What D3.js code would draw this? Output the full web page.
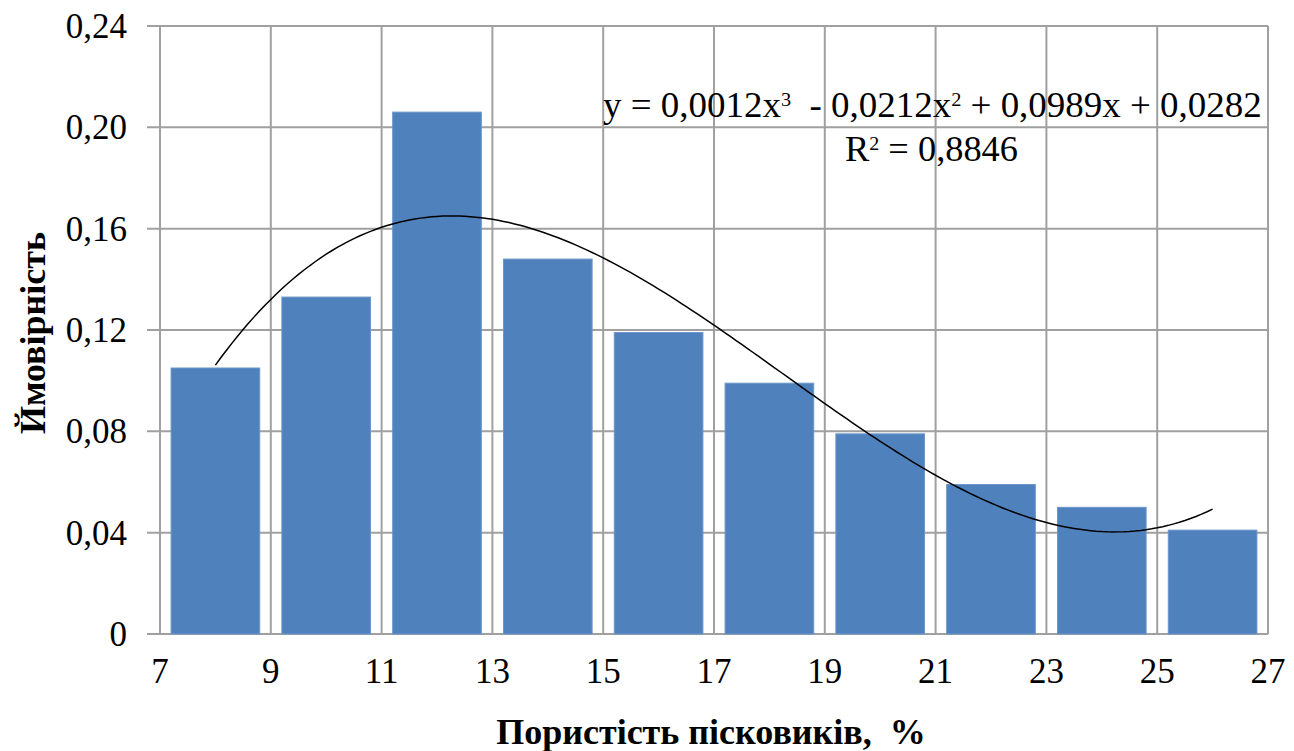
<!DOCTYPE html>
<html>
<head>
<meta charset="utf-8">
<script src="https://cdn.jsdelivr.net/npm/d3@7"></script>
<style>
  html, body { margin: 0; padding: 0; background: #fff; }
  svg { display: block; }
  text { font-family: "Liberation Serif", "Times New Roman", serif; fill: #000; white-space: pre; }
</style>
</head>
<body>
<svg id="chart" width="1294" height="751"></svg>
<script>
// Porosity bins (%), bin edges used as tick labels
const binEdges = [7, 9, 11, 13, 15, 17, 19, 21, 23, 25, 27];
const binLabels = ["7–9", "9–11", "11–13", "13–15", "15–17", "17–19", "19–21", "21–23", "23–25", "25–27"];
// Probability for each bin
const probability = [0.105, 0.133, 0.206, 0.148, 0.119, 0.099, 0.079, 0.059, 0.050, 0.041];
const yTicks = [0, 0.04, 0.08, 0.12, 0.16, 0.20, 0.24];
// Trend equation pieces: [text, isSuperscript]
const equationParts = [["y = 0,0012x", false], ["3", true], ["  - 0,0212x", false], ["2", true], [" + 0,0989x + 0,0282", false]];
const r2Parts = [["R", false], ["2", true], [" = 0,8846", false]];

const svg = d3.select("#chart");
const plot = { left: 160, right: 1268, top: 26, bottom: 634 };
const gridColor = "#a0a0a0";

const x = d3.scaleLinear().domain([7, 27]).range([plot.left, plot.right]);
const xBand = d3.scaleBand().domain(binLabels).range([plot.left, plot.right]).paddingInner(0.2).paddingOuter(0.1);
const y = d3.scaleLinear().domain([0, 0.24]).range([plot.bottom, plot.top]);

// Horizontal gridlines with left tick marks
svg.append("g").selectAll("line").data(yTicks).join("line")
  .attr("x1", plot.left - 13).attr("x2", plot.right)
  .attr("y1", d => y(d)).attr("y2", d => y(d))
  .attr("stroke", gridColor).attr("stroke-width", 2);

// Vertical gridlines at bin edges
svg.append("g").selectAll("line").data(binEdges).join("line")
  .attr("x1", d => x(d)).attr("x2", d => x(d))
  .attr("y1", plot.top).attr("y2", plot.bottom)
  .attr("stroke", gridColor).attr("stroke-width", 2);

// Y tick labels
const fmt = d => d === 0 ? "0" : d3.format(".2f")(d).replace(".", ",");
svg.append("g").selectAll("text").data(yTicks).join("text")
  .attr("x", 127).attr("y", d => y(d)).attr("dy", "0.34em")
  .attr("text-anchor", "end").attr("font-size", 35)
  .text(fmt);

// X tick labels
svg.append("g").selectAll("text").data(binEdges).join("text")
  .attr("x", d => x(d)).attr("y", 683)
  .attr("text-anchor", "middle").attr("font-size", 35)
  .text(d => d);

// Bars
svg.append("g").selectAll("rect").data(probability).join("rect")
  .attr("x", (d, i) => xBand(binLabels[i]))
  .attr("width", xBand.bandwidth())
  .attr("y", d => y(d))
  .attr("height", d => plot.bottom - y(d))
  .attr("fill", "#4f81bd")
  .attr("stroke", "#6b96c9").attr("stroke-width", 1);

// Cubic least-squares trend over bin index 1..n
function polyFit(xs, ys, deg) {
  const n = deg + 1;
  const A = Array.from({length: n}, () => new Array(n + 1).fill(0));
  for (let r = 0; r < n; r++) {
    for (let c = 0; c < n; c++) A[r][c] = d3.sum(xs, v => Math.pow(v, r + c));
    A[r][n] = d3.sum(xs, (v, k) => ys[k] * Math.pow(v, r));
  }
  for (let i = 0; i < n; i++) {
    let p = i;
    for (let k = i + 1; k < n; k++) if (Math.abs(A[k][i]) > Math.abs(A[p][i])) p = k;
    [A[i], A[p]] = [A[p], A[i]];
    for (let k = 0; k < n; k++) {
      if (k === i) continue;
      const f = A[k][i] / A[i][i];
      for (let c = i; c <= n; c++) A[k][c] -= f * A[i][c];
    }
  }
  return A.map((row, i) => row[n] / row[i]);
}
const idx = probability.map((d, i) => i + 1);
const coef = polyFit(idx, probability, 3);
const trend = t => coef[0] + coef[1] * t + coef[2] * t * t + coef[3] * t * t * t;
const tScale = d3.scaleLinear().domain([1, binLabels.length])
  .range([xBand(binLabels[0]) + xBand.bandwidth() / 2, xBand(binLabels[binLabels.length - 1]) + xBand.bandwidth() / 2]);
const samples = d3.range(1, binLabels.length + 0.001, 0.05);
svg.append("path")
  .datum(samples)
  .attr("d", d3.line().x(t => tScale(t)).y(t => y(trend(t))))
  .attr("fill", "none").attr("stroke", "#000").attr("stroke-width", 1.5);

// Text with raised small superscripts
function richText(parts, size) {
  const t = svg.append("text").attr("font-size", size);
  parts.forEach(([s, sup]) => {
    const ts = t.append("tspan").text(s);
    if (sup) ts.attr("font-size", size * 0.55).attr("dy", -size * 0.3);
    else if (t.selectAll("tspan").size() > 1) ts.attr("dy", size * 0.3);
  });
  return t;
}
// Fit a text horizontally between two x positions
function placeSpan(t, x0, x1, baseline) {
  t.attr("x", 0).attr("y", 0);
  const w = t.node().getBBox().width;
  t.attr("transform", `translate(${x0},${baseline}) scale(${(x1 - x0) / w},1)`);
}

const eq = richText(equationParts, 36);
placeSpan(eq, 603, 1262, 117);
const r2 = richText(r2Parts, 36);
placeSpan(r2, 845, 1018, 161);

// Axis titles
svg.append("text")
  .attr("transform", "translate(45,333) rotate(-90)")
  .attr("text-anchor", "middle").attr("font-size", 36).attr("font-weight", "bold")
  .text("Ймовірність");
svg.append("text").attr("x", 711).attr("y", 744).attr("text-anchor", "middle")
  .attr("font-size", 36).attr("font-weight", "bold")
  .text("Пористість пісковиків,  %");
</script>
</body>
</html>
